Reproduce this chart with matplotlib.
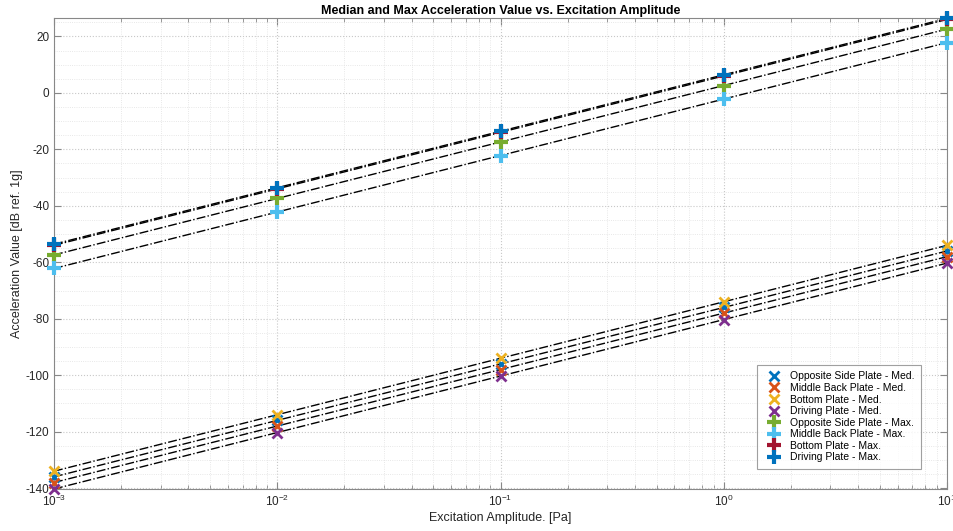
import numpy as np
import matplotlib
matplotlib.use("Agg")
import matplotlib.pyplot as plt
from matplotlib.ticker import MultipleLocator

plt.rcParams['font.family'] = ['Liberation Sans', 'DejaVu Sans']
plt.rcParams['axes.unicode_minus'] = False

amplitude = [1e-3, 1e-2, 1e-1, 1e0, 1e1]

opposite_med = [-136.0, -116.0, -96.0, -76.0, -56.0]
middle_med = [-138.0, -118.0, -98.0, -78.0, -58.0]
bottom_med = [-134.0, -114.0, -94.0, -74.0, -54.0]
driving_med = [-140.3, -120.3, -100.3, -80.3, -60.3]

opposite_max = [-57.4, -37.4, -17.4, 2.6, 22.6]
middle_max = [-62.2, -42.2, -22.2, -2.2, 17.8]
bottom_max = [-54.0, -34.0, -14.0, 6.0, 26.0]
driving_max = [-53.6, -33.6, -13.6, 6.4, 26.4]

labels = ['Opposite Side Plate - Med.', 'Middle Back Plate - Med.',
          'Bottom Plate - Med.', 'Driving Plate - Med.',
          'Opposite Side Plate - Max.', 'Middle Back Plate - Max.',
          'Bottom Plate - Max.', 'Driving Plate - Max.']
series = [opposite_med, middle_med, bottom_med, driving_med,
          opposite_max, middle_max, bottom_max, driving_max]
colors = ['#0072BD', '#D95319', '#EDB120', '#7E2F8E',
          '#77AC30', '#4DBEEE', '#A2142F', '#0072BD']
markers = ['x', 'x', 'x', 'x', '+', '+', '+', '+']

fig = plt.figure(figsize=(9.54, 5.31), dpi=100)
ax = fig.add_axes([0.0566, 0.0791, 0.9361, 0.8864])

# fit lines
for ys in series:
    ax.plot(amplitude, ys, color='black', linestyle='-.', linewidth=1.0, zorder=2)

for ys, c, m, lab in zip(series, colors, markers, labels):
    if m == 'x':
        ax.plot(amplitude, ys, linestyle='none', marker='x', markersize=7,
                markeredgewidth=2.0, color=c, label=lab, clip_on=False, zorder=3)
    else:
        ax.plot(amplitude, ys, linestyle='none', marker='+', markersize=10,
                markeredgewidth=3.0, color=c, label=lab, clip_on=False, zorder=3)

ax.set_xscale('log')
ax.set_xlim(1e-3, 1e1)
allv = np.concatenate([np.array(s) for s in series])
ax.set_ylim(allv.min(), allv.max())
ax.set_yticks([-140, -120, -100, -80, -60, -40, -20, 0, 20])
ax.yaxis.set_minor_locator(MultipleLocator(5))

ax.grid(True, which='major', linestyle=':', color='#c8c8c8', linewidth=0.8)
ax.grid(True, which='minor', linestyle=':', color='#e0e0e0', linewidth=0.6)
ax.tick_params(which='both', direction='in', top=True, right=True,
               labelsize=8.5, colors='#262626')
ax.tick_params(which='major', length=5, color='#888888')
ax.tick_params(which='minor', length=3, color='#888888')
ax.tick_params(axis='y', which='minor', length=0)
for sp in ax.spines.values():
    sp.set_color('#888888')
    sp.set_linewidth(0.8)

ax.set_xlabel('Excitation Amplitude. [Pa]', fontsize=9, color='#262626', labelpad=2)
ax.set_ylabel('Acceleration Value [dB ref. 1g]', fontsize=9, color='#262626', labelpad=2)
ax.set_title('Median and Max Acceleration Value vs. Excitation Amplitude',
             fontsize=9, fontweight='bold', pad=3)

leg = ax.legend(loc='upper left', bbox_to_anchor=(0.788, 0.322),
                bbox_transform=fig.transFigure, fontsize=7.5, frameon=True,
                fancybox=False, edgecolor='#888888', handlelength=2.0,
                handletextpad=0.6, labelspacing=0.15, borderpad=0.6)
leg.get_frame().set_linewidth(0.8)

fig.savefig('out.png', dpi=100)
